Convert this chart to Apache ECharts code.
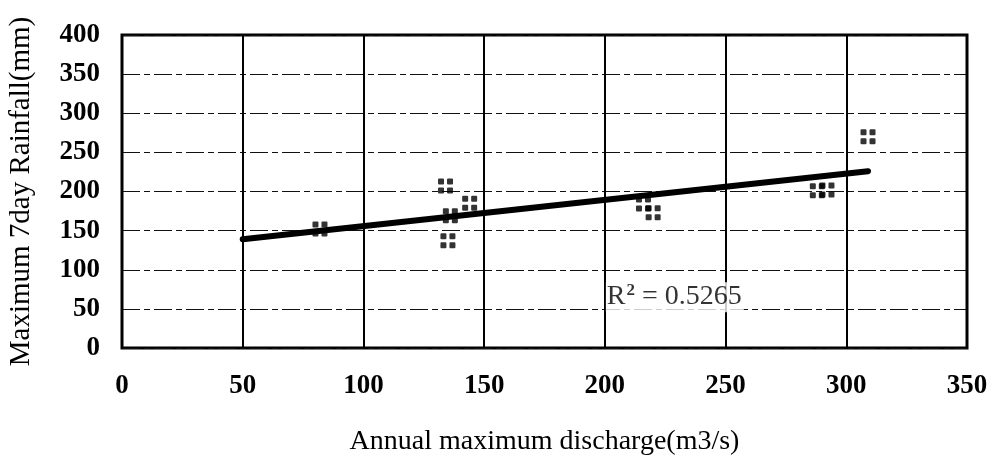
<!DOCTYPE html>
<html>
<head>
<meta charset="utf-8">
<title>Annual maximum discharge vs maximum 7-day rainfall</title>
<script src="https://cdn.jsdelivr.net/npm/echarts@6/dist/echarts.min.js"></script>
<style>
  html, body { margin: 0; padding: 0; background: #fff; }
  #chart { width: 993px; height: 460px; }
</style>
</head>
<body>
<div id="chart"></div>
<script>
// Observed pairs: annual maximum discharge (m3/s) and maximum 7-day rainfall (mm)
const discharge = [82, 134, 136, 144, 135, 216, 220, 288, 292, 309];
const rainfall  = [152, 207, 169, 185, 137, 184, 173, 201, 202, 270];

// Linear trend line end points
const trendX = [50, 309];
const trendY = [139, 226];

// Coefficient of determination shown on the plot and where its label sits
const rSquared = '0.5265';
const rLabelAt = [200, 65];

// Axis ticks
const xTicks = [0, 50, 100, 150, 200, 250, 300, 350];
const yTicks = [0, 50, 100, 150, 200, 250, 300, 350, 400];

const serif = "'Liberation Serif', 'Times New Roman', serif";

// Four-dot marker (2 x 2 block of small rounded squares)
const dotMarker = 'path://' +
  'M1,0h4a1,1 0 0 1 1,1v4a1,1 0 0 1 -1,1h-4a1,1 0 0 1 -1,-1v-4a1,1 0 0 1 1,-1z' +
  'M10,0h4a1,1 0 0 1 1,1v4a1,1 0 0 1 -1,1h-4a1,1 0 0 1 -1,-1v-4a1,1 0 0 1 1,-1z' +
  'M1,9h4a1,1 0 0 1 1,1v4a1,1 0 0 1 -1,1h-4a1,1 0 0 1 -1,-1v-4a1,1 0 0 1 1,-1z' +
  'M10,9h4a1,1 0 0 1 1,1v4a1,1 0 0 1 -1,1h-4a1,1 0 0 1 -1,-1v-4a1,1 0 0 1 1,-1z';

const points = discharge.map((x, i) => [x, rainfall[i]]);
const trend = trendX.map((x, i) => [x, trendY[i]]);

const chart = echarts.init(document.getElementById('chart'), null, { renderer: 'canvas' });

chart.setOption({
  animation: false,
  backgroundColor: '#fff',
  grid: {
    left: 122, right: 26, top: 35, bottom: 112,
    containLabel: false,
    outerBoundsMode: 'none',
    show: true, borderColor: '#000', borderWidth: 3, backgroundColor: '#fff'
  },
  xAxis: {
    type: 'value',
    min: xTicks[0], max: xTicks[xTicks.length - 1], interval: 50,
    name: 'Annual maximum discharge(m3/s)',
    nameLocation: 'middle', nameGap: 80,
    nameTextStyle: { fontFamily: serif, fontSize: 28, color: '#000' },
    axisLine: { show: false },
    axisTick: { show: false },
    axisLabel: { fontFamily: serif, fontSize: 27, fontWeight: 'bold', color: '#000', margin: 25 },
    splitLine: { show: true, lineStyle: { color: '#000', width: 2, type: 'solid' } }
  },
  yAxis: {
    type: 'value',
    min: yTicks[0], max: yTicks[yTicks.length - 1], interval: 50,
    name: 'Maximum 7day Rainfall(mm)',
    nameLocation: 'middle', nameGap: 86,
    nameTextStyle: { fontFamily: serif, fontSize: 29, color: '#000' },
    axisLine: { show: false },
    axisTick: { show: false },
    axisLabel: {
      fontFamily: serif, fontSize: 27, fontWeight: 'bold', color: '#000',
      margin: 22, padding: [0, 0, 8, 0]
    },
    splitLine: { show: true, lineStyle: { color: '#111', width: 1.2, type: [18, 4, 6, 4] } }
  },
  series: [
    {
      type: 'line',
      data: trend,
      symbol: 'none',
      lineStyle: { color: '#000', width: 6, cap: 'round' },
      z: 3
    },
    {
      type: 'scatter',
      data: points,
      symbol: dotMarker,
      symbolSize: [15, 15],
      itemStyle: { color: '#000' },
      z: 4
    },
    {
      type: 'scatter',
      data: [rLabelAt],
      symbolSize: 0,
      silent: true,
      label: {
        show: true,
        position: 'right',
        distance: 1,
        backgroundColor: '#fff',
        padding: [0, 2, 0, 1],
        formatter: '{a|R}{s|2}{a| = ' + rSquared + '}',
        rich: {
          a: { fontFamily: serif, fontSize: 28, color: '#000' },
          s: { fontFamily: serif, fontSize: 17, fontWeight: 'bold', color: '#000', padding: [0, 0, 13, 1] }
        }
      },
      z: 5
    }
  ]
});
</script>
</body>
</html>
